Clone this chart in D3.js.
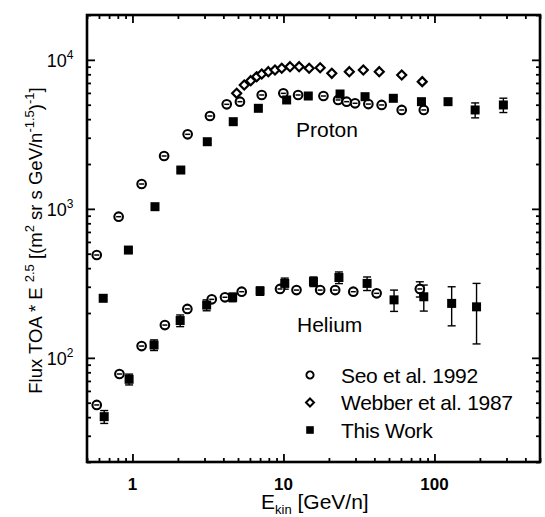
<!DOCTYPE html>
<html>
<head>
<meta charset="utf-8">
<script src="https://cdn.jsdelivr.net/npm/d3@7"></script>
<style>
  body { margin: 0; background: #fff; }
  text { font-family: "Liberation Sans", Arial, sans-serif; fill: #000; }
</style>
</head>
<body>
<div id="container"></div>
<script>
/* DATA */
// proton, Seo et al. 1992
const pSeoE = [0.58, 0.81, 1.15, 1.62, 2.32, 3.26, 4.21, 5.15, 7.18, 9.98, 12.5, 18.4, 23, 26.2, 29.8, 36.5, 44.7, 60.7, 85];
const pSeoF = [490, 886, 1468, 2264, 3164, 4200, 5030, 5240, 5810, 5960, 5810, 5720, 5380, 5240, 5110, 5050, 4980, 4610, 4610];
// proton, Webber et al. 1987
const pWebE = [4.9, 5.5, 6.07, 6.65, 7.18, 7.94, 8.79, 9.74, 11.05, 12.7, 14.8, 17.5, 20.9, 27.3, 33.8, 43.1, 60.7, 83];
const pWebF = [5960, 6780, 7250, 7710, 8040, 8330, 8550, 8780, 9000, 9000, 8780, 8860, 8120, 8330, 8550, 8330, 7910, 7140];
// proton, this work
const pOwnE = [0.64, 0.94, 1.41, 2.09, 3.13, 4.65, 6.82, 10.5, 14.6, 23.7, 34.7, 53.4, 82, 123, 186, 286];
const pOwnF = [251, 529, 1034, 1822, 2822, 3846, 4730, 5380, 5720, 5900, 5660, 5520, 5240, 5240, 4610, 4980];
const pOwnErr = [8, 16, 30, 55, 85, 115, 140, 160, 170, 230, 170, 170, 200, 250, 530, 550];
// helium, Seo et al. 1992
const hSeoE = [0.58, 0.82, 1.15, 1.64, 2.31, 3.35, 4.1, 5.29, 9.49, 12.2, 17.5, 22, 29, 41.4, 80];
const hSeoF = [48.3, 77.9, 120, 166, 213, 247, 255, 278, 290, 285, 285, 285, 278, 271, 290];
const hSeoErr = [1.5, 2.5, 4, 5, 6, 7, 7, 8, 9, 9, 9, 9, 10, 12, 34];
// helium, this work
const hOwnE = [0.65, 0.95, 1.39, 2.07, 3.1, 4.61, 7.0, 10.2, 15.8, 23.3, 35.8, 54, 85, 130, 190];
const hOwnF = [40.3, 71.8, 122, 178, 226, 255, 281, 316, 325, 346, 316, 245, 257, 232, 220];
const hOwnErr = [4, 6, 10, 16, 19, 17, 18, 27, 24, 31, 33, 40, 51, 68, 96];

const xMajor = [1, 10, 100];
const xMinor = [0.5, 0.6, 0.7, 0.8, 0.9, 2, 3, 4, 5, 6, 7, 8, 9, 20, 30, 40, 50, 60, 70, 80, 90, 200, 300, 400, 500];
const yMajor = [100, 1000, 10000];
const yExp = ["2", "3", "4"];
const yMinor = [20, 30, 40, 50, 60, 70, 80, 90, 200, 300, 400, 500, 600, 700, 800, 900,
  2000, 3000, 4000, 5000, 6000, 7000, 8000, 9000, 20000];

const legendLabels = ["Seo et al. 1992", "Webber et al. 1987", "This Work"];

/* CONSTANTS */
const width = 545, height = 517;
const margin = { top: 15, right: 5, bottom: 55, left: 87 };

const zip = (xs, ys, es) => xs.map((x, i) => ({ x, y: ys[i], e: es ? es[i] : 0 }));

const svg = d3.select("#container").append("svg")
  .attr("width", width).attr("height", height);

const xScale = d3.scaleLog().domain([0.5, 500]).range([margin.left, width - margin.right]);
const yScale = d3.scaleLog().domain([20, 20000]).range([height - margin.bottom, margin.top]);

const x0 = margin.left, x1 = width - margin.right;
const y0 = height - margin.bottom, y1 = margin.top;

/* AXES (ticks point inward, mirrored on all sides) */
function addAxis(axisFn, scale, values, size, transform) {
  const g = svg.append("g")
    .attr("transform", transform)
    .call(axisFn(scale).tickValues(values).tickSizeInner(-size).tickSizeOuter(0).tickFormat(""));
  g.select(".domain").remove();
  g.selectAll("line").attr("stroke", "#000").attr("stroke-width", 1.8);
  return g;
}
addAxis(d3.axisBottom, xScale, xMajor, 8, `translate(0,${y0})`);
addAxis(d3.axisBottom, xScale, xMinor, 4, `translate(0,${y0})`);
addAxis(d3.axisTop, xScale, xMajor, 8, `translate(0,${y1})`);
addAxis(d3.axisTop, xScale, xMinor, 4, `translate(0,${y1})`);
addAxis(d3.axisLeft, yScale, yMajor, 8, `translate(${x0},0)`);
addAxis(d3.axisLeft, yScale, yMinor, 4, `translate(${x0},0)`);
addAxis(d3.axisRight, yScale, yMajor, 8, `translate(${x1},0)`);
addAxis(d3.axisRight, yScale, yMinor, 4, `translate(${x1},0)`);

// frame
svg.append("rect")
  .attr("x", x0).attr("y", y1).attr("width", x1 - x0).attr("height", y0 - y1)
  .attr("fill", "none").attr("stroke", "#000").attr("stroke-width", 2.6);

// tick labels
svg.selectAll(".xlab").data(xMajor).join("text")
  .attr("x", d => xScale(d)).attr("y", y0 + 28)
  .attr("text-anchor", "middle").attr("font-size", 17).attr("font-weight", "bold")
  .text(d => d);

const yl = svg.selectAll(".ylab").data(yMajor).join("text")
  .attr("x", x0 - 27).attr("y", d => yScale(d) + 7)
  .attr("text-anchor", "middle").attr("font-size", 18);
yl.append("tspan").text("10");
yl.append("tspan").attr("font-size", 12).attr("dy", -8).text((d, i) => yExp[i]);

// axis titles
const xt = svg.append("text").attr("x", 261).attr("y", 509).attr("font-size", 21);
xt.append("tspan").text("E");
xt.append("tspan").attr("font-size", 13).attr("dy", 5).text("kin");
xt.append("tspan").attr("dy", -5).text(" [GeV/n]");

const yt = svg.append("text")
  .attr("transform", `translate(42,${(y0 + y1) / 2 + 2}) rotate(-90)`)
  .attr("text-anchor", "middle").attr("font-size", 18.5);
yt.append("tspan").text("Flux TOA * E ");
yt.append("tspan").attr("font-size", 13).attr("dy", -8).text("2.5");
yt.append("tspan").attr("dy", 8).text("   [(m");
yt.append("tspan").attr("font-size", 13).attr("dy", -8).text("2");
yt.append("tspan").attr("dy", 8).text(" sr s GeV/n");
yt.append("tspan").attr("font-size", 13).attr("dy", -8).text("-1.5");
yt.append("tspan").attr("dy", 8).text(")");
yt.append("tspan").attr("font-size", 13).attr("dy", -8).text("-1");
yt.append("tspan").attr("dy", 8).text("]");

/* MARKS */
function errorBars(data) {
  const g = svg.append("g").attr("stroke", "#000").attr("stroke-width", 1.4);
  data.forEach(d => {
    const cx = xScale(d.x), ya = yScale(d.y + d.e), yb = yScale(Math.max(d.y - d.e, 1));
    g.append("line").attr("x1", cx).attr("x2", cx).attr("y1", ya).attr("y2", yb);
    g.append("line").attr("x1", cx - 4).attr("x2", cx + 4).attr("y1", ya).attr("y2", ya);
    g.append("line").attr("x1", cx - 4).attr("x2", cx + 4).attr("y1", yb).attr("y2", yb);
  });
}

function circles(data) {
  const g = svg.append("g");
  g.selectAll("circle").data(data).join("circle")
    .attr("cx", d => xScale(d.x)).attr("cy", d => yScale(d.y)).attr("r", 4.3)
    .attr("fill", "#fff").attr("stroke", "#000").attr("stroke-width", 2.1);
  g.selectAll("line").data(data).join("line")
    .attr("x1", d => xScale(d.x) - 2.5).attr("x2", d => xScale(d.x) + 2.5)
    .attr("y1", d => yScale(d.y)).attr("y2", d => yScale(d.y))
    .attr("stroke", "#000").attr("stroke-width", 1.5);
}

function diamonds(data) {
  svg.append("g").selectAll("path").data(data).join("path")
    .attr("d", d => {
      const cx = xScale(d.x), cy = yScale(d.y), r = 4.5;
      return `M${cx},${cy - r}L${cx + r},${cy}L${cx},${cy + r}L${cx - r},${cy}Z`;
    })
    .attr("fill", "#fff").attr("stroke", "#000").attr("stroke-width", 2.2);
}

function squares(data) {
  svg.append("g").selectAll("rect").data(data).join("rect")
    .attr("x", d => xScale(d.x) - 4.5).attr("y", d => yScale(d.y) - 4.5)
    .attr("width", 9).attr("height", 9).attr("fill", "#000");
}

errorBars(zip(pOwnE, pOwnF, pOwnErr));
errorBars(zip(hOwnE, hOwnF, hOwnErr));
errorBars(zip(hSeoE, hSeoF, hSeoErr));
circles(zip(pSeoE, pSeoF));
circles(zip(hSeoE, hSeoF));
diamonds(zip(pWebE, pWebF));
squares(zip(pOwnE, pOwnF));
squares(zip(hOwnE, hOwnF));

// series labels
svg.append("text").attr("x", 296).attr("y", 137).attr("font-size", 21).text("Proton");
svg.append("text").attr("x", 297).attr("y", 332).attr("font-size", 21).text("Helium");

/* LEGEND */
const lg = svg.append("g").attr("transform", "translate(310,375)");
const rowH = 27.5;
lg.append("circle").attr("cx", 0).attr("cy", 0).attr("r", 3.6)
  .attr("fill", "#fff").attr("stroke", "#000").attr("stroke-width", 1.9);
lg.append("path").attr("d", `M0,${rowH - 4}L4,${rowH}L0,${rowH + 4}L-4,${rowH}Z`)
  .attr("fill", "#fff").attr("stroke", "#000").attr("stroke-width", 2);
lg.append("rect").attr("x", -3.8).attr("y", 2 * rowH - 3.8).attr("width", 7.6).attr("height", 7.6).attr("fill", "#000");
lg.selectAll("text").data(legendLabels).join("text")
  .attr("x", 31).attr("y", (d, i) => i * rowH + 7.5)
  .attr("font-size", 21).attr("letter-spacing", -0.3).text(d => d);
</script>
</body>
</html>
